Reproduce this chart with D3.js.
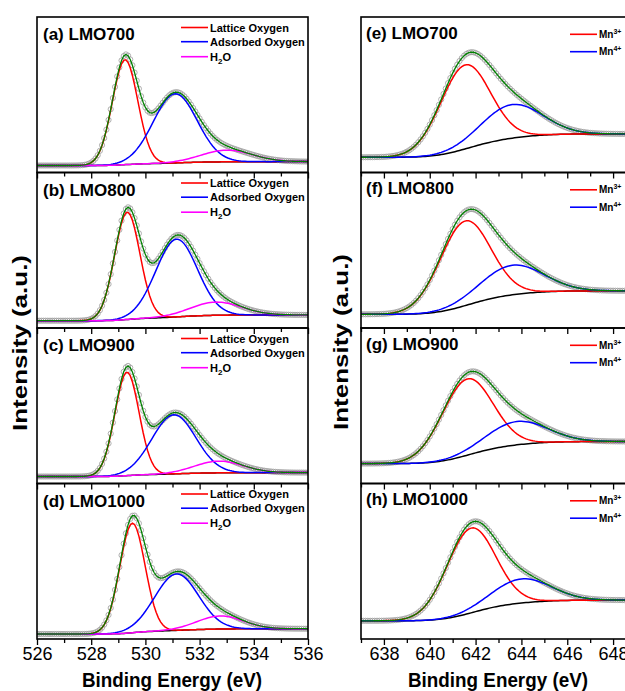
<!DOCTYPE html>
<html>
<head>
<meta charset="utf-8">
<script src="https://cdn.jsdelivr.net/npm/d3@7"></script>
<style>
body { margin: 0; background: #fff; }
svg { display: block; font-family: "Liberation Sans", Arial, sans-serif; }
</style>
</head>
<body>
<div id="chart"></div>
<script>
// O 1s panels (left column)
var oLabels = ["(a) LMO700", "(b) LMO800", "(c) LMO900", "(d) LMO1000"];
var oNames = ["Lattice Oxygen", "Adsorbed Oxygen", "H2O"];
var oCenter = [[529.25, 531.10, 533.00], [529.33, 531.15, 532.60], [529.32, 531.05, 532.70], [529.52, 531.15, 532.75]];
var oHeight = [[67.5, 44.5, 7.5], [69.0, 50.0, 8.5], [66.5, 38.0, 7.5], [70.5, 36.3, 8.4]];
var oFwhm = [[1.10, 1.90, 2.20], [1.10, 1.80, 2.20], [1.05, 1.90, 2.10], [1.10, 1.90, 2.00]];
var oBgLow = [4.5, 4.7, 4.5, 3.2];
var oBgHigh = [7.0, 8.4, 7.0, 6.6];
var oTicks = [526, 528, 530, 532, 534, 536];
var oMinor = [527, 529, 531, 533, 535];

// Mn panels (right column)
var mnLabels = ["(e) LMO700", "(f) LMO800", "(g) LMO900", "(h) LMO1000"];
var mnNames = ["3+", "4+"];
var mnCenter = [[641.54, 643.58], [641.54, 643.58], [641.63, 643.80], [641.80, 643.99]];
var mnHeight = [[54.0, 21.6], [54.4, 19.0], [49.0, 15.0], [54.5, 15.5]];
var mnFwhm = [[2.55, 3.10], [2.60, 3.20], [2.60, 3.10], [2.50, 3.00]];
var mnBgLow = [9.8, 8.8, 12.8, 11.7];
var mnBgHigh = [24.8, 23.9, 27.0, 25.0];
var mnTicks = [638, 640, 642, 644, 646, 648];
var mnMinor = [637, 639, 641, 643, 645, 647, 649];

var W = 625, H = 691;
var top0 = 17, panelH = 155.5;
var compColors = ["#ff0000", "#0000ff", "#ff00ff"];

var svg = d3.select("#chart")
    .append("svg")
    .attr("width", W)
    .attr("height", H);

var xO = d3.scaleLinear().domain([526, 536]).range([37, 308]);
var xMn = d3.scaleLinear().domain([637, 649]).range([361, 636]);

function profile(x, c, h, w) {
    var s = w / 2.3548;
    return h * Math.exp(-0.5 * Math.pow((x - c) / s, 2));
}

// fitted components sitting on a Shirley type background
function buildCurves(xs, centers, heights, widths, low, high) {
    var peaks = centers.map(function(c, k) {
        return xs.map(function(x) { return profile(x, c, heights[k], widths[k]); });
    });
    var sum = xs.map(function(x, j) { return d3.sum(peaks, function(p) { return p[j]; }); });
    var cum = [0];
    for (var j = 1; j < xs.length; j++) {
        cum[j] = cum[j - 1] + (sum[j] + sum[j - 1]) / 2 * (xs[j] - xs[j - 1]);
    }
    var total = cum[cum.length - 1];
    var bg = cum.map(function(c) { return low + (high - low) * c / total; });
    return {
        bg: bg,
        comps: peaks.map(function(p) { return p.map(function(v, j) { return v + bg[j]; }); }),
        env: sum.map(function(v, j) { return v + bg[j]; })
    };
}

function drawPanel(col, i) {
    var x = col.x;
    var top = top0 + i * panelH;
    var y = d3.scaleLinear().domain([0, 100]).range([top + panelH, top]);
    var x0 = x.range()[0], x1 = x.range()[1];
    var xs = d3.range(x.domain()[0], x.domain()[1] + 1e-9, col.step);
    var cv = buildCurves(xs, col.center[i], col.height[i], col.fwhm[i], col.low[i], col.high[i]);

    var g = svg.append("g");
    var clipId = "clip" + col.id + i;
    g.append("clipPath").attr("id", clipId)
        .append("rect")
        .attr("x", x0).attr("y", top)
        .attr("width", x1 - x0).attr("height", panelH);

    var plot = g.append("g").attr("clip-path", "url(#" + clipId + ")");

    // measured points
    plot.selectAll("circle")
        .data(xs)
        .enter()
        .append("circle")
        .attr("cx", function(d) { return x(d); })
        .attr("cy", function(d, j) { return y(cv.env[j]); })
        .attr("r", 2.6)
        .attr("fill", "none")
        .attr("stroke", "#9c9c9c")
        .attr("stroke-width", 0.8);

    var line = function(vals) {
        return d3.line()
            .x(function(d) { return x(d); })
            .y(function(d, j) { return y(vals[j]); })(xs);
    };

    plot.append("path").attr("d", line(cv.bg))
        .attr("fill", "none").attr("stroke", "#000").attr("stroke-width", 1.5);

    cv.comps.forEach(function(c, k) {
        plot.append("path").attr("d", line(c))
            .attr("fill", "none").attr("stroke", compColors[k]).attr("stroke-width", 1.5);
    });

    plot.append("path").attr("d", line(cv.env))
        .attr("fill", "none").attr("stroke", "#008000").attr("stroke-width", 1.3);

    // ticks
    var minor = d3.axisBottom(x).tickValues(col.minor).tickSize(4).tickFormat("");
    var major = d3.axisBottom(x).tickValues(col.ticks).tickSize(6).tickPadding(2)
        .tickFormat(i === 3 ? d3.format("d") : "");
    [minor, major].forEach(function(ax) {
        g.append("g")
            .attr("transform", "translate(0," + (top + panelH) + ")")
            .call(ax)
            .call(function(s) {
                s.select(".domain").remove();
                s.selectAll(".tick line").attr("stroke", "#000").attr("stroke-width", 1.3);
                s.selectAll(".tick text")
                    .attr("fill", "#000")
                    .attr("font-size", "18px")
                    .attr("font-family", "'Liberation Sans', Arial, sans-serif");
            });
    });

    g.append("rect")
        .attr("x", x0).attr("y", top)
        .attr("width", x1 - x0).attr("height", panelH)
        .attr("fill", "none").attr("stroke", "#000").attr("stroke-width", 1.6);

    g.append("text")
        .attr("x", x0 + col.labelDx)
        .attr("y", top + col.labelDy)
        .attr("font-size", "17px")
        .attr("font-weight", "bold")
        .text(col.labels[i]);

    col.legend(g, top, x0);
}

function oLegend(g, top, x0) {
    var rows = [10.5, 24.7, 39.7];
    oNames.forEach(function(n, k) {
        g.append("line")
            .attr("x1", x0 + 144).attr("x2", x0 + 171)
            .attr("y1", top + rows[k]).attr("y2", top + rows[k])
            .attr("stroke", compColors[k]).attr("stroke-width", 1.6);
        var t = g.append("text")
            .attr("x", x0 + 173)
            .attr("y", top + rows[k] + 4)
            .attr("font-size", "11px")
            .attr("font-weight", "bold");
        if (n === "H2O") {
            t.append("tspan").text("H");
            t.append("tspan").attr("font-size", "8px").attr("dy", 3).text("2");
            t.append("tspan").attr("dy", -3).text("O");
        } else {
            t.text(n);
        }
    });
}

function mnLegend(g, top, x0) {
    var rows = [17.3, 34.7];
    mnNames.forEach(function(n, k) {
        g.append("line")
            .attr("x1", x0 + 209).attr("x2", x0 + 236)
            .attr("y1", top + rows[k]).attr("y2", top + rows[k])
            .attr("stroke", compColors[k]).attr("stroke-width", 1.6);
        var t = g.append("text")
            .attr("x", x0 + 238)
            .attr("y", top + rows[k] + 3.6)
            .attr("font-size", "10px")
            .attr("font-weight", "bold");
        t.append("tspan").text("Mn");
        t.append("tspan").attr("font-size", "7px").attr("dy", -4).text(n);
    });
}

var oCol = {
    id: "o", x: xO, step: 0.08, center: oCenter, height: oHeight, fwhm: oFwhm,
    low: oBgLow, high: oBgHigh, ticks: oTicks, minor: oMinor, labels: oLabels,
    labelDx: 6, labelDy: 23, legend: oLegend
};
var mnCol = {
    id: "mn", x: xMn, step: 0.1, center: mnCenter, height: mnHeight, fwhm: mnFwhm,
    low: mnBgLow, high: mnBgHigh, ticks: mnTicks, minor: mnMinor, labels: mnLabels,
    labelDx: 5, labelDy: 21.5, legend: mnLegend
};

for (var i = 0; i < 4; i++) {
    drawPanel(oCol, i);
    drawPanel(mnCol, i);
}

// axis titles
[[172, "left"], [498, "right"]].forEach(function(d) {
    svg.append("text")
        .attr("x", d[0])
        .attr("y", 687)
        .attr("text-anchor", "middle")
        .attr("font-size", "21px")
        .attr("font-weight", "bold")
        .attr("textLength", 180)
        .attr("lengthAdjust", "spacingAndGlyphs")
        .text("Binding Energy (eV)");
});

[[27, 343], [348, 342]].forEach(function(d) {
    svg.append("text")
        .attr("transform", "translate(" + d[0] + "," + d[1] + ") rotate(-90)")
        .attr("text-anchor", "middle")
        .attr("font-size", "20px")
        .attr("font-weight", "bold")
        .attr("textLength", 176)
        .attr("lengthAdjust", "spacingAndGlyphs")
        .text("Intensity (a.u.)");
});
</script>
</body>
</html>
